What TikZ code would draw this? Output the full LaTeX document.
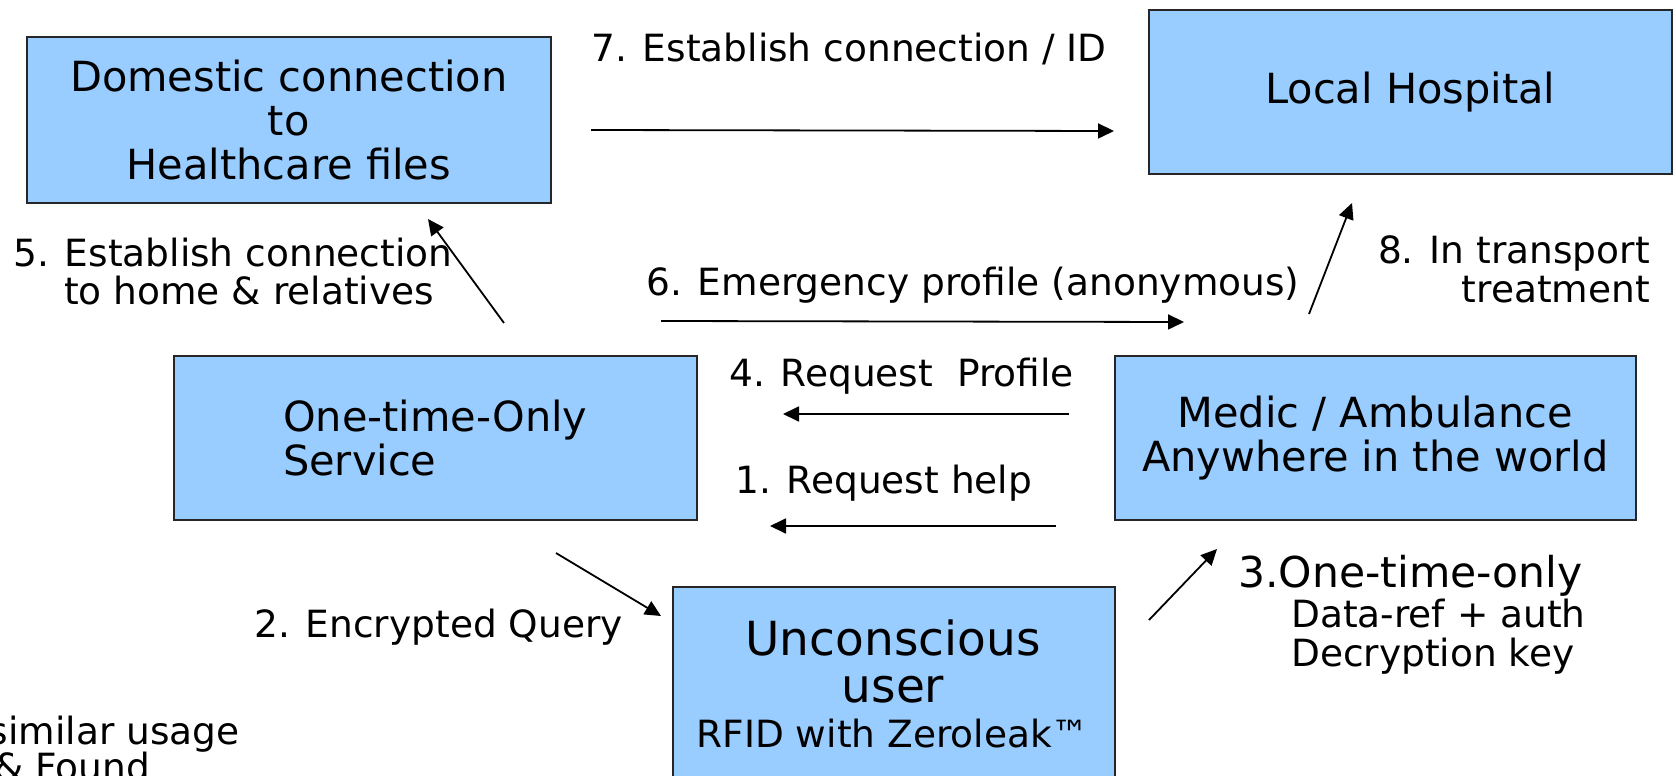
\documentclass[tikz,border=0pt]{standalone}
\usepackage{fontspec}
\setmainfont{DejaVu Sans}
\usetikzlibrary{arrows.meta}
\definecolor{boxblue}{HTML}{99CCFF}
\begin{document}
\begin{tikzpicture}[x=1pt,y=-1pt,
  box/.style={draw=black!85,line width=1.6pt,fill=boxblue,inner sep=0pt,anchor=north west},
  boxtext/.style={font=\fontsize{41.5}{44}\selectfont,align=center,inner sep=0pt},
  lbl/.style={font=\fontsize{37.5}{38.5}\selectfont,inner sep=0pt},
  flow/.style={line width=1.8pt,-{Triangle[length=16pt,width=15pt]}}]
\useasboundingbox (0,0) rectangle (1676,776);
\clip (0,0) rectangle (1676,776);

% boxes
\node[box,minimum width=524pt,minimum height=166pt] (dom) at (26,36) {};
\node[boxtext] (domtxt) at (dom.center) {Domestic connection\\to\\Healthcare files};
\node[box,minimum width=523pt,minimum height=164pt] (hosp) at (1148,9) {};
\node[boxtext] (hosptxt) at (hosp.center) {Local Hospital};
\node[box,minimum width=523pt,minimum height=164pt] (oto) at (173,355) {};
\node[boxtext,align=left] (ototxt) at (oto.center) {One-time-Only\\Service};
\node[box,minimum width=521pt,minimum height=164pt] (medic) at (1114,355) {};
\node[boxtext] (medictxt) at (medic.center) {Medic / Ambulance\\Anywhere in the world};
\node[box,minimum width=442pt,minimum height=240pt] (user) at (672,586) {};
\node[boxtext,font=\fontsize{47}{47}\selectfont] (usertxt) at (893,661) {Unconscious\\user};
\node[lbl,anchor=center] (rfid) at (893,734) {RFID with Zeroleak™};

% labels
\node[lbl,anchor=west] (l7) at (591,49) {7. Establish connection / ID};
\node[lbl,anchor=west,align=left] (l5) at (13,271.5) {5. Establish connection\\\hspace*{51pt}to home \& relatives};
\node[lbl,anchor=west] (l6) at (646,285) {6. Emergency profile (anonymous)};
\node[lbl,anchor=east,align=right] (l8) at (1650,269.5) {8. In transport\\treatment};
\node[lbl,anchor=west] (l4) at (729,376) {4. Request\ \ Profile};
\node[lbl,anchor=west] (l1) at (735,483) {1. Request help};
\node[lbl,anchor=west] (l2) at (254,627) {2. Encrypted Query};
\node[lbl,anchor=west,font=\fontsize{42.5}{43}\selectfont] (l3) at (1238,576) {3.One-time-only};
\node[lbl,anchor=west,align=left] (l3b) at (1291,636.5) {Data-ref + auth\\Decryption key};
\node[lbl,anchor=east] (lsim) at (240,734) {similar usage};
\node[lbl,anchor=east] (lfound) at (150,767) {\& Found};

% connector end points
\coordinate (a7s) at (591,130);  \coordinate (a7e) at (1114,131);
\coordinate (a5s) at (504,323);  \coordinate (a5e) at (428,219);
\coordinate (a6s) at (661,321);  \coordinate (a6e) at (1184,322);
\coordinate (a8s) at (1309,314); \coordinate (a8e) at (1352,203);
\coordinate (a4s) at (1069,414); \coordinate (a4e) at (783,414);
\coordinate (a1s) at (1056,526); \coordinate (a1e) at (770,526);
\coordinate (a2s) at (556,553);  \coordinate (a2e) at (661,616);
\coordinate (a3s) at (1149,620); \coordinate (a3e) at (1217,549);

% connectors
\draw[flow] (a7s) -- (a7e);
\draw[flow] (a5s) -- (a5e);
\draw[flow] (a6s) -- (a6e);
\draw[flow] (a8s) -- (a8e);
\draw[flow] (a4s) -- (a4e);
\draw[flow] (a1s) -- (a1e);
\draw[flow] (a2s) -- (a2e);
\draw[flow] (a3s) -- (a3e);
\end{tikzpicture}
\end{document}
